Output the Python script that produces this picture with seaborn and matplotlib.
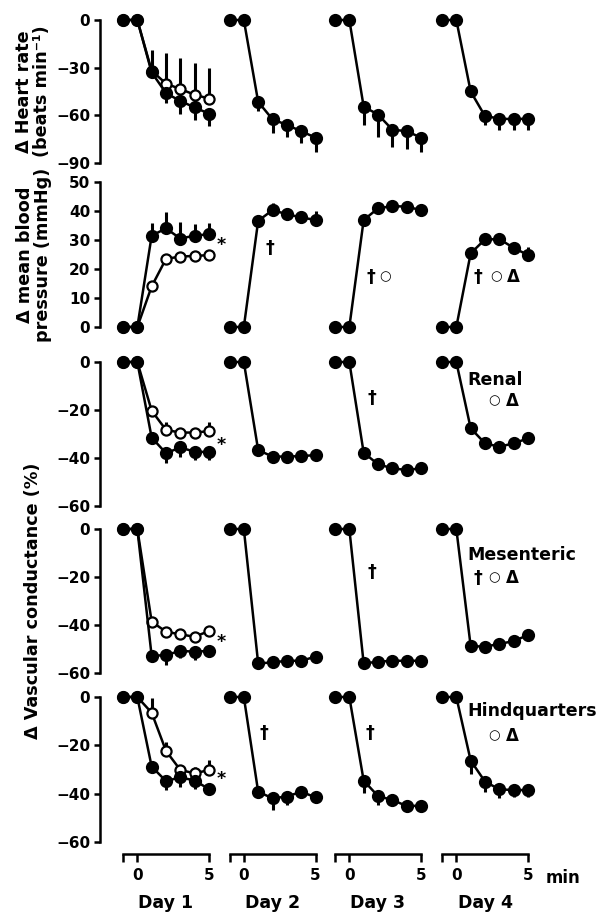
import numpy as np
import pandas as pd
import matplotlib
matplotlib.use("Agg")
import matplotlib.pyplot as plt
import seaborn as sns

# ---------------- data ----------------
time = [-1, 0, 1, 2, 3, 4, 5]
day_labels = ["Day 1", "Day 2", "Day 3", "Day 4"]

# Heart rate (beats/min)
hr_d1_filled = [0, 0, -33, -46, -51, -55, -59]
hr_d1_filled_sem = [0, 0, 0, 6, 8, 8, 8]
hr_d1_open = [0, 0, -32, -40, -43.5, -47, -49.5]
hr_d1_open_sem = [0, 0, 13, 19, 19.5, 20, 19.5]
hr_d2 = [0, 0, -51.5, -62.5, -66, -70, -74]
hr_d2_sem = [0, 0, 6, 8.5, 7.5, 7.7, 9]
hr_d3 = [0, 0, -54.5, -59.5, -69, -70, -74]
hr_d3_sem = [0, 0, 11.5, 14, 11, 11, 9]
hr_d4 = [0, 0, -45, -60.5, -62, -62.5, -62]
hr_d4_sem = [0, 0, 3, 5.5, 7, 7, 7]

# Mean blood pressure (mmHg)
bp_d1_filled = [0, 0, 31.5, 34, 30.5, 31.5, 32]
bp_d1_filled_sem = [0, 0, 4.3, 5.6, 5.7, 4, 4]
bp_d1_open = [0, 0, 14, 23.5, 24.3, 24.5, 24.8]
bp_d1_open_sem = [0, 0, 0, 0, 0, 0, 0]
bp_d2 = [0, 0, 36.6, 40.3, 38.9, 37.8, 36.9]
bp_d2_sem = [0, 0, 1, 2.6, 1.7, 2.3, 3.2]
bp_d3 = [0, 0, 36.9, 40.9, 41.7, 41.5, 40.3]
bp_d3_sem = [0, 0, 0, 0, 0, 0, 1.5]
bp_d4 = [0, 0, 25.4, 30.2, 30.3, 27.3, 24.8]
bp_d4_sem = [0, 0, 0, 0, 0, 1.8, 2.7]

# Renal vascular conductance (%)
ren_d1_filled = [0, 0, -31.5, -38, -35.6, -37.4, -37.5]
ren_d1_filled_sem = [0, 0, 2, 4, 4, 3.5, 3.5]
ren_d1_open = [0, 0, -20.3, -28.3, -29.4, -29.4, -28.8]
ren_d1_open_sem = [0, 0, 0, 3.4, 1.5, 1.5, 3.9]
ren_d2 = [0, 0, -36.7, -39.4, -39.4, -39.2, -38.8]
ren_d2_sem = [0, 0, 0, 1, 1, 0, 0]
ren_d3 = [0, 0, -37.8, -42.6, -44.3, -45, -44.3]
ren_d3_sem = [0, 0, 0, 0, 0, 0, 0]
ren_d4 = [0, 0, -27.6, -33.9, -35.3, -33.9, -31.8]
ren_d4_sem = [0, 0, 0, 0, 0, 0, 0]

# Mesenteric vascular conductance (%)
mes_d1_filled = [0, 0, -52.9, -52.5, -50.8, -51.1, -50.8]
mes_d1_filled_sem = [0, 0, 0, 4, 3, 3.5, 1]
mes_d1_open = [0, 0, -38.6, -42.8, -43.9, -44.9, -42.5]
mes_d1_open_sem = [0, 0, 0, 0, 2, 0, 2]
mes_d2 = [0, 0, -56, -55.6, -54.9, -54.9, -53.2]
mes_d2_sem = [0, 0, 0, 0, 0, 0, 0]
mes_d3 = [0, 0, -56, -55.3, -54.9, -54.9, -54.9]
mes_d3_sem = [0, 0, 0, 0, 0, 0, 0]
mes_d4 = [0, 0, -48.8, -49, -47.9, -46.7, -44.2]
mes_d4_sem = [0, 0, 0, 0, 0, 0, 0]

# Hindquarters vascular conductance (%)
hq_d1_filled = [0, 0, -28.8, -34.8, -33.2, -34.6, -38.1]
hq_d1_filled_sem = [0, 0, 0, 3.7, 3.9, 3.5, 2.4]
hq_d1_open = [0, 0, -6.5, -22.3, -30.2, -31.6, -30.2]
hq_d1_open_sem = [0, 0, 6, 3.8, 0, 2.6, 4.2]
hq_d2 = [0, 0, -39.2, -41.9, -41.2, -39.2, -41.5]
hq_d2_sem = [0, 0, 0, 5, 3.5, 0, 0]
hq_d3 = [0, 0, -34.6, -41, -42.6, -45.1, -45]
hq_d3_sem = [0, 0, 5, 3.6, 0, 0, 0]
hq_d4 = [0, 0, -26.3, -35, -38.2, -38.5, -38.5]
hq_d4_sem = [0, 0, 5.6, 4.2, 3.7, 3, 3]

hr_ticks = [0, -30, -60, -90]
bp_ticks = [0, 10, 20, 30, 40, 50]
vc_ticks = [0, -20, -40, -60]

rows = [
    dict(lim=(-90, 0), ticks=hr_ticks,
         filled=[hr_d1_filled, hr_d2, hr_d3, hr_d4],
         sems=[hr_d1_filled_sem, hr_d2_sem, hr_d3_sem, hr_d4_sem],
         open=hr_d1_open, open_sem=hr_d1_open_sem),
    dict(lim=(0, 50), ticks=bp_ticks,
         filled=[bp_d1_filled, bp_d2, bp_d3, bp_d4],
         sems=[bp_d1_filled_sem, bp_d2_sem, bp_d3_sem, bp_d4_sem],
         open=bp_d1_open, open_sem=bp_d1_open_sem),
    dict(lim=(-60, 0), ticks=vc_ticks,
         filled=[ren_d1_filled, ren_d2, ren_d3, ren_d4],
         sems=[ren_d1_filled_sem, ren_d2_sem, ren_d3_sem, ren_d4_sem],
         open=ren_d1_open, open_sem=ren_d1_open_sem),
    dict(lim=(-60, 0), ticks=vc_ticks,
         filled=[mes_d1_filled, mes_d2, mes_d3, mes_d4],
         sems=[mes_d1_filled_sem, mes_d2_sem, mes_d3_sem, mes_d4_sem],
         open=mes_d1_open, open_sem=mes_d1_open_sem),
    dict(lim=(-60, 0), ticks=vc_ticks,
         filled=[hq_d1_filled, hq_d2, hq_d3, hq_d4],
         sems=[hq_d1_filled_sem, hq_d2_sem, hq_d3_sem, hq_d4_sem],
         open=hq_d1_open, open_sem=hq_d1_open_sem),
]

# ---------------- styling / layout ----------------
sns.set_theme(style="white")
plt.rcParams["font.family"] = ["DejaVu Sans"]
plt.rcParams["font.weight"] = "bold"
plt.rcParams["axes.labelweight"] = "bold"
plt.rcParams["text.color"] = "black"
plt.rcParams["axes.labelcolor"] = "black"
plt.rcParams["xtick.color"] = "black"
plt.rcParams["ytick.color"] = "black"

W, H = 598, 913
fig = plt.figure(figsize=(W / 100, H / 100), dpi=100)

col_left = [123, 229.5, 335, 442]
col_w = 86
row_px = [(20, 163), (182, 327), (362, 506), (529, 673), (697, 842)]

LW = 1.8


def draw_series(ax, vals, sems, filled):
    df = pd.DataFrame({"t": time, "v": vals})
    sns.lineplot(data=df, x="t", y="v", ax=ax, color="black", linewidth=LW,
                 marker="o", markersize=8.3 if filled else 7.3,
                 markerfacecolor="black" if filled else "white",
                 markeredgecolor="black",
                 markeredgewidth=1.2 if filled else 1.6,
                 errorbar=None, clip_on=False, zorder=4 if filled else 3)
    for t, v, s in zip(time, vals, sems):
        if s > 0:
            sgn = np.sign(v) if filled else -np.sign(v)
            ax.vlines(t, v, v + sgn * s, colors="black", linewidth=2.2,
                      clip_on=False, zorder=2)


axes = []
for r, spec in enumerate(rows):
    top, bot = row_px[r]
    row_axes = []
    for c in range(4):
        ax = fig.add_axes([col_left[c] / W, 1 - bot / H, col_w / W, (bot - top) / H])
        ax.patch.set_visible(False)
        if c == 0:
            draw_series(ax, spec["open"], spec["open_sem"], filled=False)
        draw_series(ax, spec["filled"][c], spec["sems"][c], filled=True)
        ax.set_xlim(-1, 5)
        ax.set_ylim(*spec["lim"])
        ax.set_xlabel("")
        ax.set_ylabel("")
        sns.despine(ax=ax, left=(c != 0), bottom=(r != 4))
        if c == 0:
            ax.spines["left"].set_position(("outward", 16.6))
            ax.spines["left"].set_bounds(*spec["lim"])
            ax.spines["left"].set_linewidth(LW)
            ax.spines["left"].set_color("black")
            ax.set_yticks(spec["ticks"])
            ax.tick_params(axis="y", left=True, direction="out", length=4.5,
                           width=LW, labelsize=11, pad=2.5, colors="black")
        else:
            ax.set_yticks([])
        if r == 4:
            ax.spines["bottom"].set_position(("outward", 8.6))
            ax.spines["bottom"].set_bounds(-1, 5)
            ax.spines["bottom"].set_linewidth(LW)
            ax.spines["bottom"].set_color("black")
            ax.set_xticks([-1, 0, 5])
            ax.set_xticklabels(["", "0", "5"])
            ax.tick_params(axis="x", bottom=True, direction="out", length=6,
                           width=LW, labelsize=11, pad=4, colors="black")
            ax.set_xlabel(day_labels[c], fontsize=12.5, fontweight="bold",
                          va="center", color="black")
            ax.xaxis.set_label_coords(0.5, (842 - 903) / (842 - 697))
        else:
            ax.set_xticks([])
        row_axes.append(ax)
    axes.append(row_axes)

# y-axis labels
lab_kw = dict(fontsize=12.7, fontweight="bold", va="center", linespacing=0.95,
              color="black")
axes[0][0].set_ylabel("\u0394 Heart rate\n(beats min\u207b\u00b9)", **lab_kw)
axes[0][0].yaxis.set_label_coords((33 - 123) / col_w, 0.5)
axes[1][0].set_ylabel("\u0394 mean blood\npressure (mmHg)", **lab_kw)
axes[1][0].yaxis.set_label_coords((34 - 123) / col_w, 0.5)
axes[3][0].set_ylabel("\u0394 Vascular conductance (%)", **lab_kw)
axes[3][0].yaxis.set_label_coords((33 - 123) / col_w, 0.5)


def ftext(x, y, s, size=12.5, ha="center"):
    fig.text(x / W, 1 - y / H, s, fontsize=size, fontweight="bold",
             ha=ha, va="center", color="black")


ftext(563, 878, "min", size=12)

# significance symbols: (x_px, y_px, symbol)
DAG, CIR, DEL = "\u2020", "\u25cb", "\u0394"
sym_size = {DAG: 12.5, CIR: 9.5, DEL: 12}
symbols = [
    (221, 245, "*"), (221, 445, "*"), (221, 642, "*"), (221, 779, "*"),
    (270, 248, DAG),
    (371, 277, DAG), (385, 277, CIR),
    (478, 277, DAG), (496, 277, CIR), (513, 277, DEL),
    (372, 398, DAG),
    (494, 401, CIR), (512, 401, DEL),
    (372, 572, DAG),
    (478, 578, DAG), (494, 578, CIR), (512, 578, DEL),
    (264, 733, DAG), (370, 733, DAG),
    (494, 736, CIR), (512, 736, DEL),
]
for x, y, s in symbols:
    ftext(x, y, s, size=sym_size.get(s, 12.5))

ftext(467, 380, "Renal", ha="left")
ftext(467, 555, "Mesenteric", ha="left")
ftext(467, 711, "Hindquarters", ha="left")

fig.savefig("out.png", dpi=100)
